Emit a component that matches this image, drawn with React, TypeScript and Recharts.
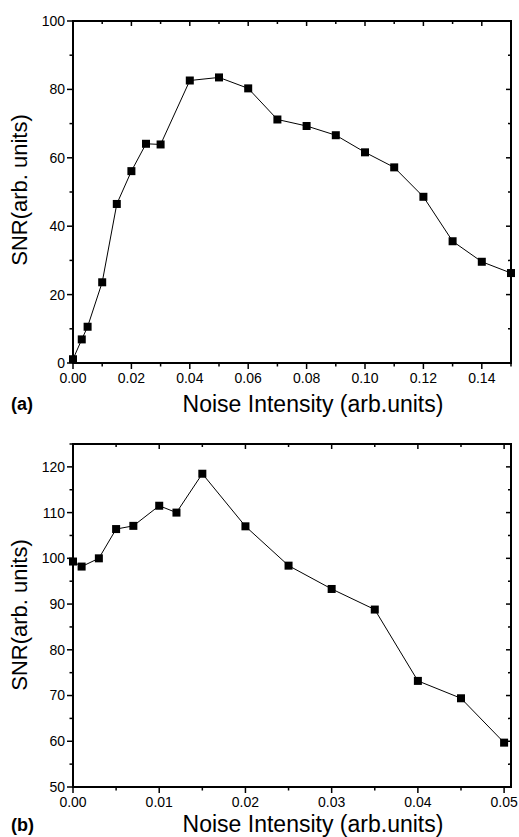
import React from 'react';
import { LineChart, Line, XAxis, YAxis, ReferenceLine, ReferenceArea } from 'recharts';

// Panel (a)
const noiseA = [0, 0.003, 0.005, 0.01, 0.015, 0.02, 0.025, 0.03, 0.04, 0.05, 0.06, 0.07, 0.08, 0.09, 0.1, 0.11, 0.12, 0.13, 0.14, 0.15];
const snrA = [1.1, 6.9, 10.6, 23.6, 46.5, 56.1, 64.1, 63.9, 82.6, 83.5, 80.3, 71.2, 69.3, 66.6, 61.6, 57.2, 48.6, 35.6, 29.6, 26.3];
const xTicksA = [0, 0.01, 0.02, 0.03, 0.04, 0.05, 0.06, 0.07, 0.08, 0.09, 0.1, 0.11, 0.12, 0.13, 0.14, 0.15];
const xMajorA = [0, 0.02, 0.04, 0.06, 0.08, 0.1, 0.12, 0.14];
const yTicksA = [0, 10, 20, 30, 40, 50, 60, 70, 80, 90, 100];
const yMajorA = [0, 20, 40, 60, 80, 100];
const xDomainA: [number, number] = [0, 0.15];
const yDomainA: [number, number] = [0, 100];

// Panel (b)
const noiseB = [0, 0.001, 0.003, 0.005, 0.007, 0.01, 0.012, 0.015, 0.02, 0.025, 0.03, 0.035, 0.04, 0.045, 0.05];
const snrB = [99.3, 98.2, 100.0, 106.4, 107.1, 111.5, 110.0, 118.5, 107.0, 98.4, 93.3, 88.8, 73.2, 69.4, 59.7];
const xTicksB = [0, 0.005, 0.01, 0.015, 0.02, 0.025, 0.03, 0.035, 0.04, 0.045, 0.05];
const xMajorB = [0, 0.01, 0.02, 0.03, 0.04, 0.05];
const yTicksB = [50, 55, 60, 65, 70, 75, 80, 85, 90, 95, 100, 105, 110, 115, 120, 125];
const yMajorB = [50, 60, 70, 80, 90, 100, 110, 120];
const xDomainB: [number, number] = [0, 0.0508];
const yDomainB: [number, number] = [50, 125];

const FONT = '"Liberation Sans", Arial, Helvetica, sans-serif';

const near = (list: number[], v: number) => list.some((m) => Math.abs(m - v) < 1e-9);

const makeBottomTick = (major: number[]) => (p: any) => {
  const v = p.payload.value;
  const isMajor = near(major, v);
  return (
    <g>
      <line x1={p.x} y1={p.y} x2={p.x} y2={p.y + (isMajor ? 6 : 3.5)} stroke="#000" strokeWidth={1.5} />
      {isMajor && (
        <text x={p.x} y={p.y + 10} dy="0.71em" textAnchor="middle" fontSize={14} fontFamily={FONT} fill="#000">
          {v.toFixed(2)}
        </text>
      )}
    </g>
  );
};

const makeLeftTick = (major: number[]) => (p: any) => {
  const v = p.payload.value;
  const isMajor = near(major, v);
  return (
    <g>
      <line x1={p.x} y1={p.y} x2={p.x - (isMajor ? 6 : 3.5)} y2={p.y} stroke="#000" strokeWidth={1.5} />
      {isMajor && (
        <text x={p.x - 8} y={p.y} dy="0.35em" textAnchor="end" fontSize={14} fontFamily={FONT} fill="#000">
          {String(v)}
        </text>
      )}
    </g>
  );
};

const makeTopTick = (major: number[]) => (p: any) => {
  const isMajor = near(major, p.payload.value);
  return <line x1={p.x} y1={p.y} x2={p.x} y2={p.y + (isMajor ? 5 : 3)} stroke="#000" strokeWidth={1.5} />;
};

const makeRightTick = (major: number[]) => (p: any) => {
  const isMajor = near(major, p.payload.value);
  return <line x1={p.x} y1={p.y} x2={p.x - (isMajor ? 5 : 3)} y2={p.y} stroke="#000" strokeWidth={1.5} />;
};

// stable, module-level tick renderers
const bottomTickA = makeBottomTick(xMajorA);
const leftTickA = makeLeftTick(yMajorA);
const topTickA = makeTopTick(xMajorA);
const rightTickA = makeRightTick(yMajorA);
const bottomTickB = makeBottomTick(xMajorB);
const leftTickB = makeLeftTick(yMajorB);
const topTickB = makeTopTick(xMajorB);
const rightTickB = makeRightTick(yMajorB);

const squareDot = (p: any) => (
  <rect key={`d${p.index}`} x={p.cx - 4} y={p.cy - 4} width={8} height={8} fill="#000" />
);

const frameLine = { stroke: '#000', strokeWidth: 2 };

const dataA = noiseA.map((x, i) => ({ x, y: snrA[i] }));
const dataB = noiseB.map((x, i) => ({ x, y: snrB[i] }));

const textBase: React.CSSProperties = {
  position: 'absolute',
  fontFamily: FONT,
  color: '#000',
  whiteSpace: 'nowrap',
  lineHeight: 1,
};

const YLabel = ({ cy }: { cy: number }) => (
  <div style={{ ...textBase, fontSize: 22, left: 20, top: cy, transform: 'translate(-50%, -50%) rotate(-90deg)' }}>
    SNR(arb. units)
  </div>
);

const XLabel = ({ cy }: { cy: number }) => (
  <div style={{ ...textBase, fontSize: 23, left: 313, top: cy, transform: 'translate(-50%, -50%)' }}>
    Noise Intensity (arb.units)
  </div>
);

const PanelTag = ({ cy, text }: { cy: number; text: string }) => (
  <div style={{ ...textBase, fontSize: 18, fontWeight: 'bold', left: 11, top: cy, transform: 'translateY(-50%)' }}>
    {text}
  </div>
);

function ChartA() {
  return (
    <LineChart width={519} height={420} data={dataA} margin={{ top: 20, right: 7, left: 0, bottom: 0 }}>
      <XAxis xAxisId="b" dataKey="x" type="number" domain={xDomainA} ticks={xTicksA} interval={0} height={57}
        tickSize={0} tickMargin={0} tickLine={false} axisLine={frameLine} tick={bottomTickA} />
      <XAxis xAxisId="t" orientation="top" dataKey="x" type="number" domain={xDomainA} ticks={xTicksA} interval={0} height={1}
        tickSize={0} tickMargin={0} tickLine={false} axisLine={frameLine} tick={topTickA} />
      <YAxis yAxisId="l" type="number" domain={yDomainA} ticks={yTicksA} interval={0} width={73}
        tickSize={0} tickMargin={0} tickLine={false} axisLine={frameLine} tick={leftTickA} />
      <YAxis yAxisId="r" orientation="right" type="number" domain={yDomainA} ticks={yTicksA} interval={0} width={1}
        tickSize={0} tickMargin={0} tickLine={false} axisLine={frameLine} tick={rightTickA} />
      <ReferenceArea xAxisId="b" yAxisId="l" x1={xDomainA[0]} x2={xDomainA[1]} y1={yDomainA[0]} y2={yDomainA[1]}
        fill="rgba(255,255,255,0)" stroke="#000" strokeWidth={2} ifOverflow="visible" />
      <ReferenceLine xAxisId="b" yAxisId="l" y={yDomainA[1]} stroke="#000" strokeWidth={2} ifOverflow="visible" />
      <ReferenceLine xAxisId="b" yAxisId="l" x={xDomainA[1]} stroke="#000" strokeWidth={2} ifOverflow="visible" />
      <Line xAxisId="t" yAxisId="r" dataKey="y" stroke="none" dot={false} activeDot={false} isAnimationActive={false} />
      <Line xAxisId="b" yAxisId="l" dataKey="y" stroke="#000" strokeWidth={1} dot={squareDot} activeDot={false} isAnimationActive={false} />
    </LineChart>
  );
}

function ChartB() {
  return (
    <LineChart width={519} height={417} data={dataB} margin={{ top: 23, right: 7, left: 0, bottom: 0 }}>
      <XAxis xAxisId="b" dataKey="x" type="number" domain={xDomainB} ticks={xTicksB} interval={0} height={50}
        tickSize={0} tickMargin={0} tickLine={false} axisLine={frameLine} tick={bottomTickB} />
      <XAxis xAxisId="t" orientation="top" dataKey="x" type="number" domain={xDomainB} ticks={xTicksB} interval={0} height={1}
        tickSize={0} tickMargin={0} tickLine={false} axisLine={frameLine} tick={topTickB} />
      <YAxis yAxisId="l" type="number" domain={yDomainB} ticks={yTicksB} interval={0} width={73}
        tickSize={0} tickMargin={0} tickLine={false} axisLine={frameLine} tick={leftTickB} />
      <YAxis yAxisId="r" orientation="right" type="number" domain={yDomainB} ticks={yTicksB} interval={0} width={1}
        tickSize={0} tickMargin={0} tickLine={false} axisLine={frameLine} tick={rightTickB} />
      <ReferenceArea xAxisId="b" yAxisId="l" x1={xDomainB[0]} x2={xDomainB[1]} y1={yDomainB[0]} y2={yDomainB[1]}
        fill="rgba(255,255,255,0)" stroke="#000" strokeWidth={2} ifOverflow="visible" />
      <ReferenceLine xAxisId="b" yAxisId="l" y={yDomainB[1]} stroke="#000" strokeWidth={2} ifOverflow="visible" />
      <ReferenceLine xAxisId="b" yAxisId="l" x={xDomainB[1]} stroke="#000" strokeWidth={2} ifOverflow="visible" />
      <Line xAxisId="t" yAxisId="r" dataKey="y" stroke="none" dot={false} activeDot={false} isAnimationActive={false} />
      <Line xAxisId="b" yAxisId="l" dataKey="y" stroke="#000" strokeWidth={1} dot={squareDot} activeDot={false} isAnimationActive={false} />
    </LineChart>
  );
}

export default function App() {
  return (
    <div style={{ position: 'absolute', left: 0, top: 0 }}>
      <div style={{ position: 'absolute', left: 0, top: 0 }}>
        <ChartA />
      </div>
      <div style={{ position: 'absolute', left: 0, top: 420 }}>
        <ChartB />
      </div>
      <YLabel cy={190} />
      <YLabel cy={615} />
      <XLabel cy={404} />
      <XLabel cy={824} />
      <PanelTag cy={404} text="(a)" />
      <PanelTag cy={825} text="(b)" />
    </div>
  );
}
